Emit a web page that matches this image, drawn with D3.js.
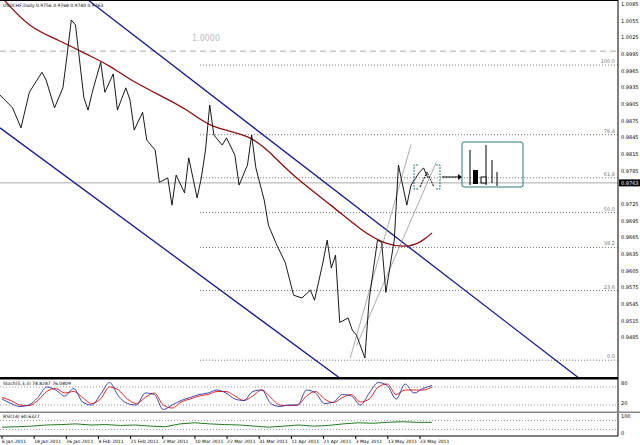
<!DOCTYPE html>
<html><head><meta charset="utf-8">
<script src="https://cdn.jsdelivr.net/npm/d3@7"></script>
<style>body{margin:0;background:#fff}svg{font-family:"DejaVu Sans",sans-serif}</style>
</head><body><div class="canvas"></div>
<script>
const w = 640, h = 445;
const plotR = 618;

// price data (day index, close)
const priceDays = [0,3,5,7,10,11,13,15,16,17,18,20,21,22,24,25,27,28,30,31,32,34,35,37,38,40,41,42,44,45,47,48,49,50,51,53,54,56,57,59,60,61,63,64,66,68,70,72,74,75,77,78,79,80,81,83,84,85,87,88,90,91,92,94,95,97,98,100,101,102];
const closes = [0.9921,0.9898,0.9862,0.9926,0.9962,0.9948,0.9898,0.9934,0.9993,1.0056,1.0047,0.9916,0.9894,0.9926,0.9980,0.9926,0.9959,0.9894,0.9934,0.9912,0.9858,0.9890,0.9840,0.9822,0.9764,0.9772,0.9723,0.9777,0.9745,0.9808,0.9736,0.9772,0.9822,0.9903,0.9849,0.9831,0.9844,0.9813,0.9759,0.9795,0.9849,0.9790,0.9732,0.9687,0.9651,0.9620,0.9561,0.9556,0.9570,0.9552,0.9620,0.9660,0.9610,0.9633,0.9512,0.9520,0.9498,0.9489,0.9448,0.9552,0.9660,0.9656,0.9566,0.9660,0.9795,0.9723,0.9759,0.9782,0.9790,0.9772];
const maDays = [1,7,14,21,26,31,38,45,50,60,65,71,79,86,92,98,101,103];
const maVals = [1.0092,1.0042,1.0020,0.9993,0.9975,0.9948,0.9921,0.9894,0.9862,0.9849,0.9813,0.9768,0.9723,0.9678,0.9651,0.9647,0.9660,0.9673];
const fibHigh = 0.9975, fibLow = 0.9444;
const fibLevels = [100.0, 76.4, 61.8, 50.0, 38.2, 23.6, 0.0];
const currentPrice = 0.9763;
const stochBlue = [40,25,15,20,45,80,70,50,75,30,20,55,95,50,25,20,60,55,5,20,35,45,55,60,70,60,40,35,65,70,25,15,20,20,70,60,25,30,55,50,20,60,95,85,40,90,60,75,85];
const stochRed = [45,35,20,18,35,65,75,60,65,45,25,40,80,70,40,25,45,60,20,10,30,40,50,55,65,65,50,35,50,70,45,20,18,20,50,65,40,28,45,55,30,40,80,90,55,70,70,70,80];
const rsiVals = [40,42,45,50,52,55,50,52,48,50,45,42,55,60,55,52,50,45,40,45,50,45,48,55,60,58,62,65,62,62];
const dateLabels = ["6 Jan 2011","18 Jan 2011","26 Jan 2011","4 Feb 2011","21 Feb 2011","2 Mar 2011","10 Mar 2011","22 Mar 2011","31 Mar 2011","11 Apr 2011","21 Apr 2011","3 May 2011","13 May 2011","23 May 2011"];

const x = d3.scaleLinear().domain([0, 103]).range([0, 432]);
const y = d3.scaleLinear().domain([1.0092, 0.9412]).range([0, 378]);
const ticks = d3.range(0, 21).map(i => 1.0085 - i * 0.003);

const svg = d3.select(".canvas").append("svg").attr("width", w).attr("height", h);
svg.append("rect").attr("width", w).attr("height", h).attr("fill", "#fff");
const main = svg.append("g");
main.append("defs").append("clipPath").attr("id","c").append("rect").attr("width",plotR).attr("height",378);
const g = main.append("g").attr("clip-path","url(#c)");

// dashed reference
g.append("line").attr("x1",0).attr("x2",plotR).attr("y1",y(1.0)).attr("y2",y(1.0))
  .attr("stroke","#aaa").attr("stroke-dasharray","6,4");
main.append("text").attr("x",192).attr("y",y(1.0)-10).attr("font-size",8).attr("fill","#bbb").text("1.0000");

// fib
fibLevels.forEach(l => {
  const p = fibLow + (fibHigh - fibLow) * l / 100;
  g.append("line").attr("x1",200).attr("x2",plotR).attr("y1",y(p)).attr("y2",y(p))
    .attr("stroke","#555").attr("stroke-dasharray","1,2").attr("stroke-width",0.8);
  main.append("text").attr("x",plotR-3).attr("y",y(p)-2).attr("text-anchor","end")
    .attr("font-size",5).attr("fill","#777").text(l.toFixed(1));
});
g.append("line").attr("x1",0).attr("x2",plotR).attr("y1",y(currentPrice)).attr("y2",y(currentPrice))
  .attr("stroke","#aaa").attr("stroke-width",1);

// channels
const blue = "#1a1a8c";
[[21,1.0092,138,0.9412],[0,0.9862,81,0.9412]].forEach(c =>
  g.append("line").attr("x1",x(c[0])).attr("y1",y(c[1])).attr("x2",x(c[2])).attr("y2",y(c[3]))
    .attr("stroke",blue).attr("stroke-width",1.3));
[[83.5,0.9448,98,0.9832],[85,0.9470,104,0.9800]].forEach(c =>
  g.append("line").attr("x1",x(c[0])).attr("y1",y(c[1])).attr("x2",x(c[2])).attr("y2",y(c[3]))
    .attr("stroke","#888").attr("stroke-width",0.7));

// MA
g.append("path").datum(maDays.map((d,i)=>[d,maVals[i]]))
  .attr("d", d3.line().x(d=>x(d[0])).y(d=>y(d[1])).curve(d3.curveBasis))
  .attr("fill","none").attr("stroke","#8b1010").attr("stroke-width",1.3);
// price
g.append("path").datum(priceDays.map((d,i)=>[d,closes[i]]))
  .attr("d", d3.line().x(d=>x(d[0])).y(d=>y(d[1])))
  .attr("fill","none").attr("stroke","#000").attr("stroke-width",0.9);

// forecast
const teal = "#2a7a7a";
g.append("path").attr("d","M418,165 h-4 v24 h4 M436,165 h4 v24 h-4").attr("fill","none")
  .attr("stroke",teal).attr("stroke-dasharray","2,1");
g.append("path").attr("d","M420,187 L427,172 L434,187").attr("fill","none").attr("stroke","#000").attr("stroke-dasharray","2,1");
g.append("line").attr("x1",442).attr("x2",458).attr("y1",177).attr("y2",177).attr("stroke","#000");
g.append("path").attr("d","M458,174 L462,177 L458,180 Z");
g.append("rect").attr("x",462).attr("y",142).attr("width",61).attr("height",45).attr("rx",2)
  .attr("fill","none").attr("stroke",teal);
[[470,150,185],[486,145,185],[492,160,183],[497,172,186]].forEach(c =>
  g.append("line").attr("x1",c[0]).attr("x2",c[0]).attr("y1",c[1]).attr("y2",c[2]).attr("stroke","#000"));
g.append("rect").attr("x",473).attr("y",170).attr("width",5).attr("height",14).attr("fill","#000");
g.append("rect").attr("x",481).attr("y",177).attr("width",5).attr("height",6).attr("fill","#fff").attr("stroke","#000");

// price axis
main.append("line").attr("x1",plotR).attr("x2",plotR).attr("y1",0).attr("y2",436).attr("stroke","#000");
main.append("line").attr("x1",0).attr("x2",plotR).attr("y1",0.5).attr("y2",0.5).attr("stroke","#000");
ticks.filter(t => Math.abs(y(t) - y(currentPrice)) > 6).forEach(t => {
  main.append("text").attr("x",621).attr("y",y(t)+2).attr("font-size",5).attr("fill","#000").text(t.toFixed(4));
});
main.append("rect").attr("x",619).attr("y",y(currentPrice)-3.5).attr("width",21).attr("height",7).attr("fill","#000");
main.append("text").attr("x",621).attr("y",y(currentPrice)+2).attr("font-size",5).attr("fill","#fff").text(currentPrice.toFixed(4));
main.append("text").attr("x",3).attr("y",7).attr("font-size",4.5).text("USDCHF,Daily  0.9756 0.9768 0.9740 0.9763");

// stoch pane
svg.append("rect").attr("x",0).attr("y",377).attr("width",plotR).attr("height",2.5).attr("fill","#000");
const ys = d3.scaleLinear().domain([0,100]).range([411,381]);
const xs = d3.scaleLinear().domain([0, stochBlue.length-1]).range([2,432]);
[80,20].forEach(v => svg.append("line").attr("x1",0).attr("x2",plotR).attr("y1",ys(v)).attr("y2",ys(v))
  .attr("stroke","#999").attr("stroke-dasharray","1,2"));
svg.append("path").attr("d", d3.line().x((d,i)=>xs(i)).y(d=>ys(d)).curve(d3.curveMonotoneX)(stochRed))
  .attr("fill","none").attr("stroke","#e01010").attr("stroke-width",0.9);
svg.append("path").attr("d", d3.line().x((d,i)=>xs(i)).y(d=>ys(d)).curve(d3.curveMonotoneX)(stochBlue))
  .attr("fill","none").attr("stroke","#3030a0").attr("stroke-width",0.9);
svg.append("text").attr("x",3).attr("y",385).attr("font-size",4.5).text("Stoch(5,3,3) 78.8287 76.0809");
svg.append("text").attr("x",621).attr("y",385).attr("font-size",5).text("80");
svg.append("text").attr("x",621).attr("y",405).attr("font-size",5).text("20");
svg.append("rect").attr("x",0).attr("y",411.5).attr("width",640).attr("height",1.5).attr("fill","#888");

// rsi pane
const yr = d3.scaleLinear().domain([0,100]).range([436,414]);
const xr = d3.scaleLinear().domain([0, rsiVals.length-1]).range([2,432]);
[70,30].forEach(v => svg.append("line").attr("x1",0).attr("x2",plotR).attr("y1",yr(v)).attr("y2",yr(v))
  .attr("stroke","#999").attr("stroke-dasharray","1,2"));
svg.append("path").attr("d", d3.line().x((d,i)=>xr(i)).y(d=>yr(d))(rsiVals))
  .attr("fill","none").attr("stroke","#0a6a0a").attr("stroke-width",0.9);
svg.append("text").attr("x",3).attr("y",418).attr("font-size",4.5).text("RSI(14) 60.6327");
svg.append("text").attr("x",621).attr("y",418).attr("font-size",5).text("100");
svg.append("text").attr("x",621).attr("y",435).attr("font-size",5).text("0");
svg.append("line").attr("x1",0).attr("x2",plotR).attr("y1",436).attr("y2",436).attr("stroke","#000");

// dates
const xd = d3.scalePoint().domain(dateLabels).range([2,420]);
dateLabels.forEach(d => {
  svg.append("line").attr("x1",xd(d)).attr("x2",xd(d)).attr("y1",436).attr("y2",439).attr("stroke","#000");
  svg.append("text").attr("x",xd(d)).attr("y",443).attr("font-size",4.5).text(d);
});
</script></body></html>
